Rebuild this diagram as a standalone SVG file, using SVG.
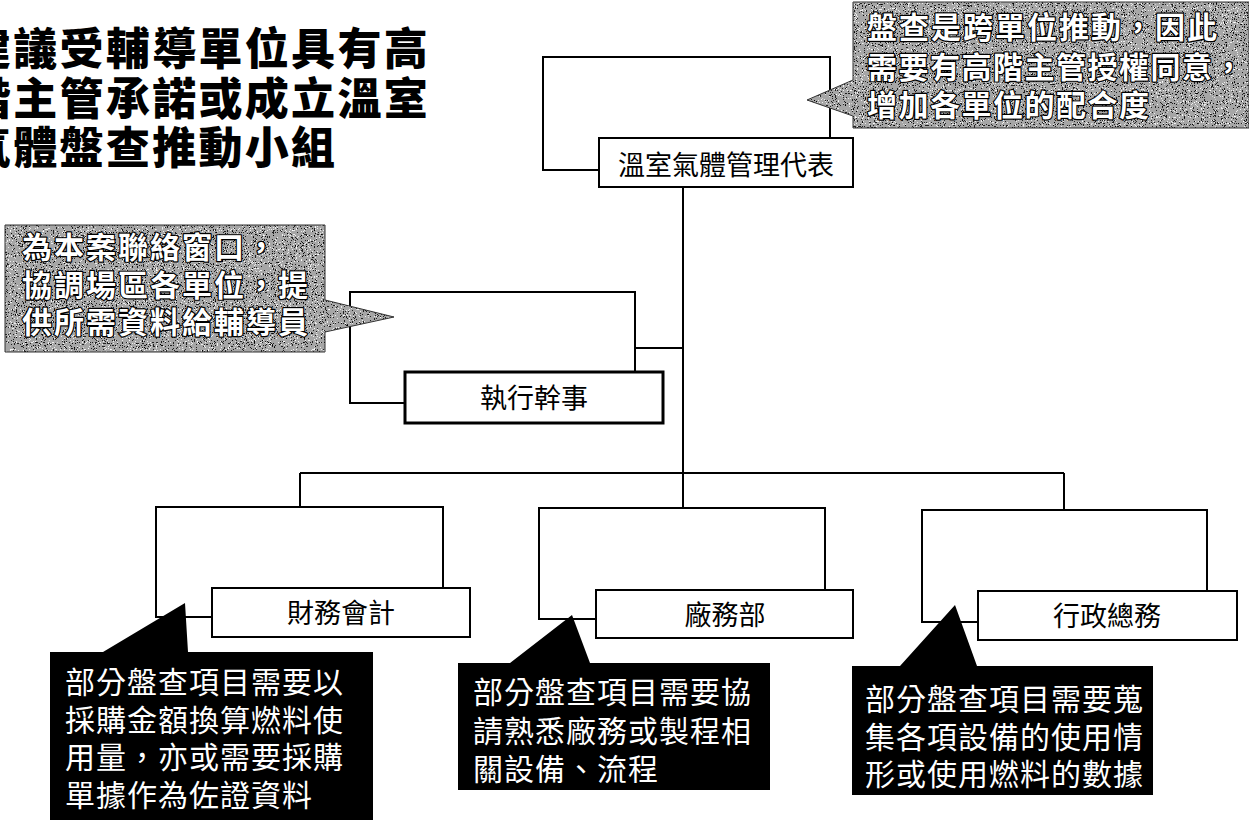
<svg xmlns="http://www.w3.org/2000/svg" width="1249" height="820" viewBox="0 0 1249 820">
<style>
.title{font-family:"Noto Sans CJK TC","Noto Sans CJK SC",sans-serif;font-size:44px;font-weight:900;fill:#000;letter-spacing:2.3px}
.frame{fill:none;stroke:#000;stroke-width:2}
.lbl{fill:#fff;stroke:#000;stroke-width:2}
.lbltxt{font-family:"Noto Sans CJK TC","Noto Sans CJK SC",sans-serif;font-size:27px;font-weight:400;fill:#000;text-anchor:middle}
.conn{stroke:#000;stroke-width:2;fill:none}
.gray{fill:#a6a6a6}
.grtxt{font-family:"Noto Sans CJK TC","Noto Sans CJK SC",sans-serif;font-size:30px;font-weight:700;fill:#fff;stroke:#000;stroke-width:2.4px;paint-order:stroke fill;stroke-linejoin:round}
.blk{fill:#000}
.bktxt{font-family:"Noto Sans CJK TC","Noto Sans CJK SC",sans-serif;font-size:30px;font-weight:400;fill:#fff;letter-spacing:1px}
</style>
<defs>
<filter id="grain" x="0" y="0" width="100%" height="100%" filterUnits="objectBoundingBox">
<feTurbulence type="fractalNoise" baseFrequency="0.9" numOctaves="2" seed="4"/>
<feColorMatrix type="matrix" values="0 0 0 0 0  0 0 0 0 0  0 0 0 0 0  2.2 0 0 0 -0.9"/>
<feComponentTransfer><feFuncA type="discrete" tableValues="0 0 0.8 1"/></feComponentTransfer>
</filter>
<filter id="grainw" x="0" y="0" width="100%" height="100%" filterUnits="objectBoundingBox">
<feTurbulence type="fractalNoise" baseFrequency="0.85" numOctaves="2" seed="9"/>
<feColorMatrix type="matrix" values="0 0 0 0 1  0 0 0 0 1  0 0 0 0 1  0 2.4 0 0 -1.1"/>
<feComponentTransfer><feFuncA type="discrete" tableValues="0 0 0.8 1"/></feComponentTransfer>
</filter>
<path id="shTop" d="M853,2 H1249 V128 H853 V116 L807,100 L853,80 Z"/>
<path id="shLeft" d="M5,225 H325 V300 L394,317 L325,332 V352 H5 Z"/>
<clipPath id="cpTop"><use href="#shTop"/></clipPath>
<clipPath id="cpLeft"><use href="#shLeft"/></clipPath>
</defs>
<rect width="1249" height="820" fill="#fff"/>

<g id="title">
<text class="title" x="-33" y="65">建議受輔導單位具有高</text>
<text class="title" x="-33" y="115">階主管承諾或成立溫室</text>
<text class="title" x="-33" y="164">氣體盤查推動小組</text>
</g>

<g id="connectors">
<line class="conn" x1="683" y1="187" x2="683" y2="508"/>
<line class="conn" x1="635" y1="348" x2="683" y2="348"/>
<line class="conn" x1="300" y1="473" x2="1064" y2="473"/>
<line class="conn" x1="300" y1="473" x2="300" y2="507"/>
<line class="conn" x1="1064" y1="473" x2="1064" y2="510"/>
</g>

<g id="node-rep">
<rect class="frame" x="543" y="57" width="287" height="113"/>
<rect class="lbl" x="599" y="138" width="254" height="49"/>
<text class="lbltxt" x="726" y="175">溫室氣體管理代表</text>
</g>

<g id="node-exec">
<rect class="frame" x="350" y="292" width="285" height="111"/>
<rect class="lbl" x="405" y="372" width="258" height="51" style="stroke-width:3"/>
<text class="lbltxt" x="534" y="408">執行幹事</text>
</g>

<g id="node-finance">
<rect class="frame" x="156" y="507" width="287" height="110"/>
<rect class="lbl" x="212" y="588" width="258" height="49"/>
<text class="lbltxt" x="341" y="623">財務會計</text>
</g>

<g id="node-plant">
<rect class="frame" x="539" y="508" width="286" height="111"/>
<rect class="lbl" x="596" y="590" width="257" height="48"/>
<text class="lbltxt" x="725" y="625">廠務部</text>
</g>

<g id="node-admin">
<rect class="frame" x="922" y="510" width="285" height="112"/>
<rect class="lbl" x="978" y="591" width="259" height="49"/>
<text class="lbltxt" x="1107" y="626">行政總務</text>
</g>

<g id="callout-top">
<use href="#shTop" class="gray"/>
<g clip-path="url(#cpTop)">
<rect x="807" y="2" width="442" height="126" fill="#000" filter="url(#grain)"/>
<rect x="807" y="2" width="442" height="126" fill="#fff" filter="url(#grainw)"/>
</g>
<use href="#shTop" fill="none" stroke="#333" stroke-width="1"/>
<text class="grtxt" x="867" y="38" style="letter-spacing:2px">盤查是跨單位推動，因此</text>
<text class="grtxt" x="867" y="78" style="letter-spacing:1.5px">需要有高階主管授權同意，</text>
<text class="grtxt" x="867" y="116" style="letter-spacing:1.5px">增加各單位的配合度</text>
</g>

<g id="callout-left">
<use href="#shLeft" class="gray"/>
<g clip-path="url(#cpLeft)">
<rect x="5" y="225" width="389" height="127" fill="#000" filter="url(#grain)"/>
<rect x="5" y="225" width="389" height="127" fill="#fff" filter="url(#grainw)"/>
</g>
<use href="#shLeft" fill="none" stroke="#333" stroke-width="1"/>
<text class="grtxt" x="22" y="258" style="letter-spacing:2px">為本案聯絡窗口，</text>
<text class="grtxt" x="22" y="296" style="letter-spacing:2px">協調場區各單位，提</text>
<text class="grtxt" x="22" y="333" style="letter-spacing:2px">供所需資料給輔導員</text>
</g>

<g id="note-finance">
<path class="blk" d="M50,652 H103 L185,603 L188,652 H373 V820 H50 Z"/>
<text class="bktxt" x="65" y="693">部分盤查項目需要以</text>
<text class="bktxt" x="65" y="731">採購金額換算燃料使</text>
<text class="bktxt" x="65" y="768">用量，亦或需要採購</text>
<text class="bktxt" x="65" y="806">單據作為佐證資料</text>
</g>

<g id="note-plant">
<path class="blk" d="M458,663 H510 L572,615 L590,663 H770 V790 H458 Z"/>
<text class="bktxt" x="473" y="703">部分盤查項目需要協</text>
<text class="bktxt" x="473" y="742">請熟悉廠務或製程相</text>
<text class="bktxt" x="473" y="780">關設備、流程</text>
</g>

<g id="note-admin">
<path class="blk" d="M852,666 H900 L955,605 L977,666 H1153 V795 H852 Z"/>
<text class="bktxt" x="865" y="710">部分盤查項目需要蒐</text>
<text class="bktxt" x="865" y="748">集各項設備的使用情</text>
<text class="bktxt" x="865" y="785">形或使用燃料的數據</text>
</g>
</svg>
